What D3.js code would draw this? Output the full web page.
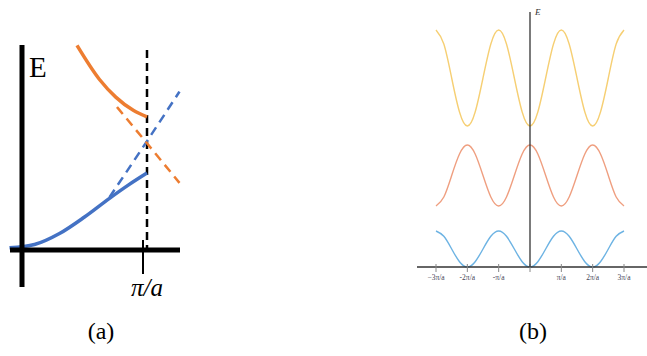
<!DOCTYPE html>
<html>
<head>
<meta charset="utf-8">
<script src="https://cdn.jsdelivr.net/npm/d3@7"></script>
<style>
	body { margin: 0; background: #fff; }
	svg { display: block; }
</style>
</head>
<body>
<svg id="chart" width="647" height="356"></svg>
<script>
// panel (a): k in units of pi/a, E in arbitrary units
var blueSolid = [[-0.1, 0.02], [0.1, 0.05], [0.3, 0.15], [0.5, 0.30], [0.7, 0.47], [0.85, 0.59], [1.0, 0.70]];
var blueDashed = [[0.70, 0.48], [1.0, 0.99], [1.26, 1.44]];
var orangeSolid = [[0.44, 1.86], [0.62, 1.55], [0.75, 1.39], [0.89, 1.27], [1.0, 1.21]];
var orangeDashed = [[0.76, 1.30], [1.0, 0.97], [1.26, 0.61]];

// panel (b): extended zone scheme, k in units of pi/a
var bandK = [-3, -2.75, -2.5, -2.25, -2, -1.75, -1.5, -1.25, -1, -0.75, -0.5, -0.25, 0,
	0.25, 0.5, 0.75, 1, 1.25, 1.5, 1.75, 2, 2.25, 2.5, 2.75, 3];
var band1 = [3.6, 3.07, 1.8, 0.53, 0, 0.53, 1.8, 3.07, 3.6, 3.07, 1.8, 0.53, 0,
	0.53, 1.8, 3.07, 3.6, 3.07, 1.8, 0.53, 0, 0.53, 1.8, 3.07, 3.6];
var band2 = [6.1, 7.0, 9.15, 11.3, 12.2, 11.3, 9.15, 7.0, 6.1, 7.0, 9.15, 11.3, 12.2,
	11.3, 9.15, 7.0, 6.1, 7.0, 9.15, 11.3, 12.2, 11.3, 9.15, 7.0, 6.1];
var band3 = [23.7, 22.3, 18.9, 15.5, 14.1, 15.5, 18.9, 22.3, 23.7, 22.3, 18.9, 15.5, 14.1,
	15.5, 18.9, 22.3, 23.7, 22.3, 18.9, 15.5, 14.1, 15.5, 18.9, 22.3, 23.7];
var bandColors = ["#6db3e3", "#ef9f80", "#f6cf73"];
var tickK = [-3, -2, -1, 1, 2, 3];
var tickLabels = ["\u22123\u03c0/a", "-2\u03c0/a", "-\u03c0/a", "\u03c0/a", "2\u03c0/a", "3\u03c0/a"];

var svg = d3.select("#chart");

drawPanelA();
drawPanelB();

function drawPanelA() {
	var G = svg.append("g");

	var xScale = d3.scaleLinear().domain([0, 1]).range([22, 147]);
	var yScale = d3.scaleLinear().domain([0, 1]).range([250, 140]);

	var line = d3.line()
		.x(d => xScale(d[0]))
		.y(d => yScale(d[1]))
		.curve(d3.curveMonotoneX);

	// dashed zone boundary
	G.append("line")
		.attr("x1", xScale(1)).attr("x2", xScale(1))
		.attr("y1", 50).attr("y2", 250)
		.attr("stroke", "#000")
		.attr("stroke-width", 2.5)
		.attr("stroke-dasharray", "8,5");

	G.append("path").attr("d", line(blueDashed))
		.attr("fill", "none").attr("stroke", "#4472c4")
		.attr("stroke-width", 2.5).attr("stroke-dasharray", "9,6");
	G.append("path").attr("d", line(orangeDashed))
		.attr("fill", "none").attr("stroke", "#ed7d31")
		.attr("stroke-width", 2.5).attr("stroke-dasharray", "9,6");
	G.append("path").attr("d", line(blueSolid))
		.attr("fill", "none").attr("stroke", "#4472c4")
		.attr("stroke-width", 3.5);
	G.append("path").attr("d", line(orangeSolid))
		.attr("fill", "none").attr("stroke", "#ed7d31")
		.attr("stroke-width", 3.5);

	// axes
	G.append("line")
		.attr("x1", xScale(0)).attr("x2", xScale(0))
		.attr("y1", 45).attr("y2", 287)
		.attr("stroke", "#000").attr("stroke-width", 5);
	G.append("line")
		.attr("x1", 10).attr("x2", 180)
		.attr("y1", yScale(0)).attr("y2", yScale(0))
		.attr("stroke", "#000").attr("stroke-width", 5);
	G.append("line")
		.attr("x1", xScale(1) - 4).attr("x2", xScale(1) - 4)
		.attr("y1", 240).attr("y2", 274)
		.attr("stroke", "#000").attr("stroke-width", 2);

	G.append("text")
		.attr("x", 29).attr("y", 77)
		.style("font-family", "Liberation Serif")
		.style("font-size", "29px")
		.text("E");
	G.append("text")
		.attr("x", 147).attr("y", 296)
		.style("font-family", "Liberation Serif")
		.style("font-style", "italic")
		.style("font-size", "25px")
		.style("text-anchor", "middle")
		.text("\u03c0/a");
	G.append("text")
		.attr("x", 101).attr("y", 339)
		.style("font-family", "Liberation Serif")
		.style("font-size", "24px")
		.style("text-anchor", "middle")
		.text("(a)");
}

function drawPanelB() {
	var G = svg.append("g");

	var xScale = d3.scaleLinear().domain([-3, 3]).range([436, 624]);
	var yScale = d3.scaleLinear().domain([0, 25.5]).range([267, 12]);

	var line = d3.line()
		.x((d, i) => xScale(bandK[i]))
		.y(d => yScale(d))
		.curve(d3.curveNatural);

	[band1, band2, band3].forEach(function(band, i) {
		G.append("path")
			.attr("d", line(band))
			.attr("fill", "none")
			.attr("stroke", bandColors[i])
			.attr("stroke-width", 1.4);
	});

	// k axis
	G.append("line")
		.attr("x1", 417).attr("x2", 648)
		.attr("y1", yScale(0)).attr("y2", yScale(0))
		.attr("stroke", "#333").attr("stroke-width", 1.3);
	G.selectAll(".tick")
		.data(tickK.concat([0]))
		.enter().append("line")
		.attr("x1", d => xScale(d)).attr("x2", d => xScale(d))
		.attr("y1", yScale(0) - 3).attr("y2", yScale(0) + 5)
		.attr("stroke", "#888").attr("stroke-width", 1);
	G.selectAll(".ticklabel")
		.data(tickK)
		.enter().append("text")
		.attr("x", d => xScale(d)).attr("y", 280)
		.style("font-family", "Liberation Serif")
		.style("font-size", "7.5px")
		.style("fill", "#445")
		.style("text-anchor", "middle")
		.text((d, i) => tickLabels[i]);

	// E axis
	G.append("line")
		.attr("x1", xScale(0)).attr("x2", xScale(0))
		.attr("y1", 12).attr("y2", yScale(0))
		.attr("stroke", "#333").attr("stroke-width", 1.3);
	G.append("text")
		.attr("x", xScale(0) + 5).attr("y", 15)
		.style("font-family", "Liberation Serif")
		.style("font-style", "italic")
		.style("font-size", "9px")
		.style("fill", "#333")
		.text("E");

	G.append("text")
		.attr("x", 533).attr("y", 339)
		.style("font-family", "Liberation Serif")
		.style("font-size", "24px")
		.style("text-anchor", "middle")
		.text("(b)");
}
</script>
</body>
</html>
